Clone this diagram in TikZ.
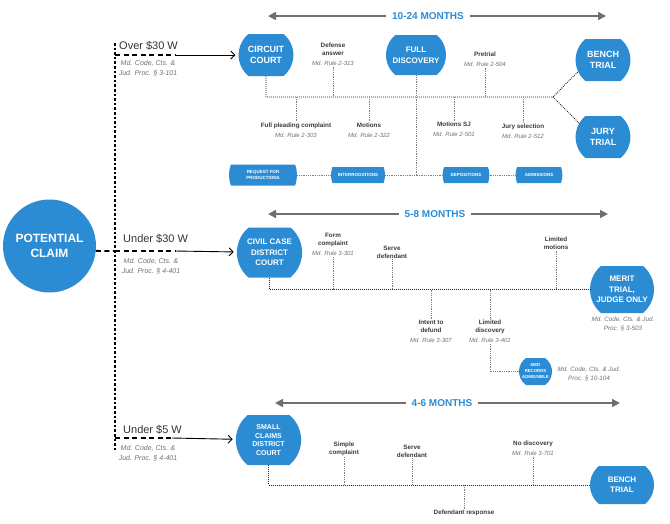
\documentclass[tikz,border=0pt]{standalone}
\usepackage{fontspec}
\setmainfont{Liberation Sans}
\usetikzlibrary{shapes.misc, arrows.meta, positioning}
\definecolor{claimblue}{HTML}{2B8CD4}
\definecolor{spangray}{HTML}{6F6F6F}
\definecolor{labgray}{HTML}{3A3A3A}
\definecolor{refgray}{HTML}{707070}
\newcommand{\fsz}[2]{\fontsize{#1}{#2}\selectfont}
\newcommand{\refx}[1]{{\normalfont\itshape\color{refgray}\fsz{6}{8}#1}}
\tikzset{claim/.style={circle, fill=claimblue, text=white, align=center, minimum size=93pt, inner sep=0pt, font=\bfseries\fsz{12}{15}},
         court/.style={rounded rectangle, rounded rectangle arc length=100, fill=claimblue, text=white, align=center, inner sep=1pt, font=\bfseries},
         box/.style={rounded rectangle, rounded rectangle arc length=40, fill=claimblue, text=white, align=center, inner xsep=3pt, minimum height=16pt, font=\bfseries\fsz{4.5}{6}},
         lbl/.style={align=center, text=labgray, inner sep=1pt, font=\bfseries\fsz{6.3}{8}},
         blab/.style={anchor=base west, inner sep=0pt, text=black!80, font=\fsz{11}{13}},
         bref/.style={align=center, inner sep=0pt, text=refgray, font=\itshape\fsz{7}{10}},
         cref/.style={align=center, inner sep=0pt, text=refgray, font=\itshape\fsz{6.3}{9}},
         months/.style={text=claimblue, inner xsep=6pt, font=\bfseries\fsz{10}{12}},
         span/.style={draw=spangray, line width=1.6pt, -{Triangle[length=8pt,width=8pt]}},
         trunk/.style={line width=1.8pt, dash pattern=on 2.6pt off 2pt},
         branch/.style={line width=1.8pt, dash pattern=on 5pt off 3.5pt},
         feed/.style={line width=0.9pt, -{Straight Barb[length=4pt,width=8pt]}, shorten >=3pt},
         tline/.style={draw=black!85, line width=0.9pt, dash pattern=on 0.9pt off 1.1pt},
         tick/.style={draw=black!50, line width=0.7pt, dash pattern=on 0.8pt off 1pt},
        }

\begin{document}
\begin{tikzpicture}[x=1pt,y=-1pt]
    \useasboundingbox (0,0) rectangle (670,523);

    % potential claim and the three branches
    \node[claim](pc)at(49.5,246){POTENTIAL\\CLAIM};
    \coordinate (tt) at (115,43);
    \coordinate (tb) at (115,451);
    \coordinate (b1) at (115,55);
    \coordinate (b2) at (115,251);
    \coordinate (b3) at (115,438);
    \coordinate (m1) at (175,55);
    \coordinate (m2) at (175,251);
    \coordinate (m3) at (172,438);
    \draw[trunk](tt)--(tb);
    \draw[branch](pc.-6)--(b2);

    \node[court, minimum width=56pt, minimum height=42pt, font=\bfseries\fsz{9}{11.5}](cc)at(266,55){CIRCUIT\\COURT};
    \node[court, minimum width=57pt, minimum height=50pt, font=\bfseries\fsz{8}{10.3}](cv)at(269.5,252.5){CIVIL CASE\\DISTRICT\\COURT};
    \node[court, minimum width=63pt, minimum height=50pt, font=\bfseries\fsz{7}{8.7}](sc)at(268.5,440){SMALL\\CLAIMS\\DISTRICT\\COURT};

    \draw[branch](b1)--(m1);
    \draw[feed](m1)--(cc);
    \draw[branch](b2)--(m2);
    \draw[feed](m2)--(cv);
    \draw[branch](b3)--(m3);
    \draw[feed](m3)--(sc);

    \node[blab](o30)at(119,49){Over \$30 W};
    \node[bref](o30r)at(148,68){Md. Code, Cts. \&\\Jud. Proc. § 3-101};
    \node[blab](u30)at(123,242){Under \$30 W};
    \node[bref](u30r)at(151,266.5){Md. Code, Cts. \&\\Jud. Proc. § 4-401};
    \node[blab](u5)at(123,433){Under \$5 W};
    \node[bref](u5r)at(148,453.5){Md. Code, Cts. \&\\Jud. Proc. § 4-401};

    % circuit court: 10-24 months
    \node[months](s1)at(428,16){10-24 MONTHS};
    \coordinate (s1a) at (268,16);
    \coordinate (s1b) at (606,16);
    \draw[span](s1.west)--(s1a);
    \draw[span](s1.east)--(s1b);

    \node[court, minimum width=62pt, minimum height=40pt, font=\bfseries\fsz{8}{10.8}](fd)at(416,55){FULL\\DISCOVERY};
    \node[court, minimum width=55pt, minimum height=42pt, font=\bfseries\fsz{9}{11.5}](bt)at(603,60){BENCH\\TRIAL};
    \node[court, minimum width=55pt, minimum height=42pt, font=\bfseries\fsz{9}{11.5}](jt)at(603,137){JURY\\TRIAL};

    \coordinate (j1) at (553,97);
    \draw[tline](cc.south)|-(j1)--(bt.205);
    \draw[tline](j1)--(jt.150);

    \node[lbl](da)at(333,54){Defense\\answer\\[2pt]\refx{Md. Rule 2-313}};
    \node[lbl](pt)at(485,59){Pretrial\\[2pt]\refx{Md. Rule 2-504}};
    \node[lbl](fp)at(296,130){Full pleading complaint\\[2pt]\refx{Md. Rule 2-303}};
    \node[lbl](mo)at(369,130){Motions\\[2pt]\refx{Md. Rule 2-322}};
    \node[lbl](sj)at(454,129.5){Motions SJ\\[2pt]\refx{Md. Rule 2-501}};
    \node[lbl](js)at(523,131){Jury selection\\[2pt]\refx{Md. Rule 2-512}};
    \draw[tick](da.south)--(da.south|-j1);
    \draw[tick](pt.south)--(pt.south|-j1);
    \draw[tick](fp.north|-j1)--(fp.north);
    \draw[tick](mo.north|-j1)--(mo.north);
    \draw[tick](sj.north|-j1)--(sj.north);
    \draw[tick](js.north|-j1)--(js.north);

    \node[box, minimum width=74pt, minimum height=21pt](rp)at(263,175){REQUEST FOR\\PRODUCTIONS};
    \node[box, minimum width=60pt](ig)at(358,175){INTERROGATIONS};
    \node[box, minimum width=49pt](dp)at(466,175){DEPOSITIONS};
    \node[box, minimum width=44pt](ad)at(539,175){ADMISSIONS};
    \draw[tick](rp.east)--(ig.west);
    \draw[tick](ig.east)--(fd.south|-ig.east);
    \draw[tick](fd.south)|-(dp.west);
    \draw[tick](dp.east)--(ad.west);

    % district court: 5-8 months
    \node[months](s2)at(435,214){5-8 MONTHS};
    \coordinate (s2a) at (268,214);
    \coordinate (s2b) at (608,214);
    \draw[span](s2.west)--(s2a);
    \draw[span](s2.east)--(s2b);

    \node[court, minimum width=66pt, minimum height=47pt, font=\bfseries\fsz{8}{10.3}](mt)at(622,289.5){MERIT\\TRIAL,\\JUDGE ONLY};
    \node[cref](mtr)at(623,323.5){Md. Code, Cts. \& Jud.\\Proc. § 3-503};
    \draw[tline](cv.south)|-(mt.west);

    \node[lbl](fc)at(333,244.5){Form\\complaint\\[2pt]\refx{Md. Rule 3-301}};
    \node[lbl](sd)at(392,252){Serve\\defendant};
    \node[lbl](lm)at(556,243){Limited\\motions};
    \node[lbl](id)at(431,331.5){Intent to\\defund\\[2pt]\refx{Md. Rule 3-307}};
    \node[lbl](ld)at(490,331.5){Limited\\discovery\\[2pt]\refx{Md. Rule 3-401}};
    \draw[tick](fc.south)--(fc.south|-mt.west);
    \draw[tick](sd.south)--(sd.south|-mt.west);
    \draw[tick](lm.south)--(lm.south|-mt.west);
    \draw[tick](id.north|-mt.west)--(id.north);
    \draw[tick](ld.north|-mt.west)--(ld.north);

    \node[court, minimum width=35pt, minimum height=27pt, rounded rectangle arc length=110, font=\bfseries\fsz{4.3}{6}](med)at(535.5,371.5){MED\\RECORDS\\ADMISSIBLE};
    \node[cref](medr)at(589,373.5){Md. Code, Cts. \& Jud.\\Proc. § 10-104};
    \draw[tick](ld.south)|-(med.west);

    % small claims: 4-6 months
    \node[months](s3)at(442,403){4-6 MONTHS};
    \coordinate (s3a) at (275,403);
    \coordinate (s3b) at (620,403);
    \draw[span](s3.west)--(s3a);
    \draw[span](s3.east)--(s3b);

    \node[court, minimum width=66pt, minimum height=38pt, font=\bfseries\fsz{8}{10}](bt3)at(622,485){BENCH\\TRIAL};
    \draw[tline](sc.south)|-(bt3.west);

    \node[lbl](scp)at(344,449){Simple\\complaint};
    \node[lbl](sd3)at(412,451){Serve\\defendant};
    \node[lbl](nd)at(533,448){No discovery\\[2pt]\refx{Md. Rule 3-701}};
    \node[lbl](dr)at(464,513){Defendant response};
    \draw[tick](scp.south)--(scp.south|-bt3.west);
    \draw[tick](sd3.south)--(sd3.south|-bt3.west);
    \draw[tick](nd.south)--(nd.south|-bt3.west);
    \draw[tick](dr.north|-bt3.west)--(dr.north);
\end{tikzpicture}
\end{document}
